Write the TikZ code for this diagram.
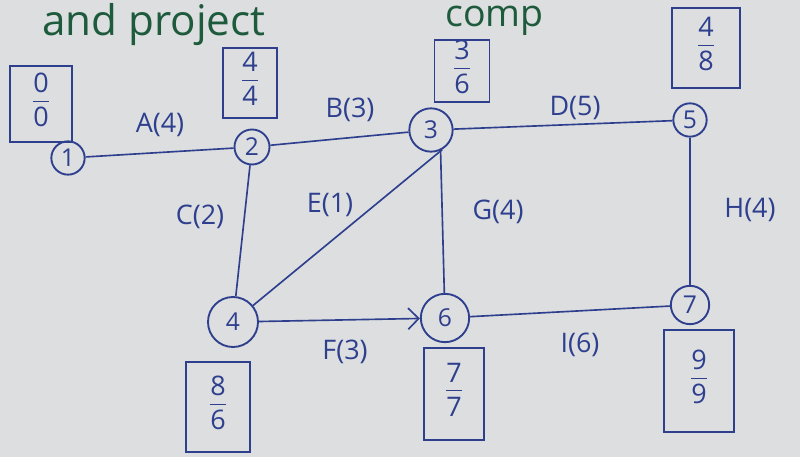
\documentclass[tikz,border=0pt]{standalone}
\usepackage{fontspec}
\setmainfont{Open Sans}
\usetikzlibrary{arrows.meta}
\definecolor{ink}{HTML}{2E3F8E}
\definecolor{paper}{HTML}{DCDEE0}
\definecolor{marker}{HTML}{1E5A3C}
\begin{document}
\begin{tikzpicture}[x=0.03cm,y=-0.03cm,
  ev/.style={circle, draw=ink, line width=1.6pt, text=ink, inner sep=0pt,
             font=\fontsize{21}{21}\selectfont},
  tbox/.style={draw=ink, line width=1.6pt, text=ink, inner sep=0pt,
               font=\fontsize{23}{23}\selectfont},
  act/.style={draw=ink, line width=1.4pt},
  lbl/.style={text=ink, font=\fontsize{23}{23}\selectfont},
  head/.style={text=marker, inner sep=0pt, font=\fontsize{36}{36}\selectfont}]
\fill[paper] (0,0) rectangle (800,457);
\useasboundingbox (0,0) rectangle (800,457);
\clip (0,0) rectangle (800,457);

% heading
\node[head, anchor=base west] (h1) at (42,36) {and project};
\node[head, anchor=base west, font=\fontsize{32}{32}\selectfont] (h2) at (445,27) {comp};

% events
\node[ev, minimum size=1.0cm]  (n1) at (68,158) {1};
\node[ev, minimum size=1.05cm] (n2) at (252,147) {2};
\node[ev, minimum size=1.3cm]  (n3) at (431,130) {3};
\node[ev, minimum size=1.0cm]  (n5) at (690,120) {5};
\node[ev, minimum size=1.5cm]  (n4) at (233,322) {4};
\node[ev, minimum size=1.45cm] (n6) at (445,318) {6};
\node[ev, minimum size=1.15cm] (n7) at (690,305) {7};

% earliest / latest times, written as a stacked fraction
\newcommand{\evtimes}[2]{\begin{tabular}{@{}c@{}}\rule[-4pt]{0pt}{18pt}#1\\\hline\rule{0pt}{22pt}#2\end{tabular}}
\node[tbox, minimum width=1.86cm, minimum height=2.28cm] (t1) at (41,104)  {\evtimes{0}{0}};
\node[tbox, minimum width=1.62cm, minimum height=2.1cm]  (t2) at (250,83)  {\evtimes{4}{4}};
\node[tbox, minimum width=1.65cm, minimum height=1.44cm] (t3) at (462,71)  {\evtimes{3}{6}};
\node[tbox, minimum width=2.04cm, minimum height=2.4cm]  (t5) at (706,48)  {\evtimes{4}{8}};
\node[tbox, minimum width=1.92cm, minimum height=2.7cm]  (t4) at (218,407) {\evtimes{8}{6}};
\node[tbox, minimum width=1.8cm,  minimum height=2.76cm] (t6) at (454,394) {\evtimes{7}{7}};
\node[tbox, minimum width=2.1cm,  minimum height=3.06cm] (t7) at (699,381) {\evtimes{9}{9}};

% activities
\draw[act] (n1) -- (n2);
\draw[act] (n2) -- (n3);
\draw[act] (n3) -- (n5);
\draw[act] (n2) -- (n4);
\draw[act] (n4) -- (n3.-60);
\draw[act] (n3.-65) -- (n6);
\draw[act] (n5) -- (n7);
\draw[act, -{Straight Barb[length=9pt,width=18pt,line width=1.4pt]}] (n4) -- (n6);
\draw[act] (n6) -- (n7);

% activity labels
\node[lbl] (la) at (160,125) {A(4)};
\node[lbl] (lb) at (350,110) {B(3)};
\node[lbl] (ld) at (575,108) {D(5)};
\node[lbl] (lc) at (200,217) {C(2)};
\node[lbl] (le) at (330,205) {E(1)};
\node[lbl] (lg) at (498,212) {G(4)};
\node[lbl] (lh) at (750,210) {H(4)};
\node[lbl] (lf) at (345,352) {F(3)};
\node[lbl] (li) at (580,345) {I(6)};
\end{tikzpicture}
\end{document}
